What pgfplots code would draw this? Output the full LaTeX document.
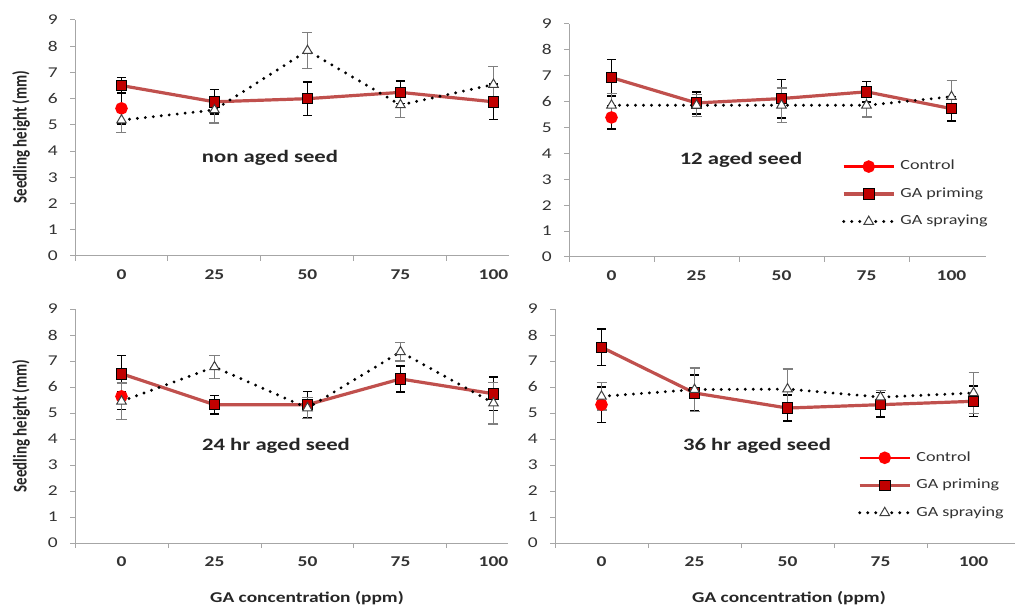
\documentclass[border=0pt]{standalone}
\usepackage{pgfplots}
\pgfplotsset{compat=1.18}
\usepackage{fontspec}
\setmainfont{Carlito}
\usepackage{graphicx}

\definecolor{prim}{HTML}{C0504D}
\definecolor{primfill}{HTML}{C00000}
\definecolor{ctrl}{HTML}{FF0000}
\definecolor{axgray}{HTML}{A6A6A6}
\definecolor{txt}{HTML}{333333}
\definecolor{errgray}{HTML}{7F7F7F}
\definecolor{tri}{HTML}{404040}

\pgfplotsset{
  panel/.style={
    scale only axis, anchor=south west, clip=false,
    axis lines*=left, axis line style={axgray, line width=1bp},
    ymin=0, ymax=9, ytick={0,...,9}, xmin=-0.5,
    xtick={-0.5,0.5,1.5,2.5,3.5,4.5}, xticklabels={},
    extra x ticks={0,1,2,3,4}, extra x tick labels={0,25,50,75,100},
    extra x tick style={major tick length=0pt},
    major tick length=5bp, tick align=outside,
    tick style={axgray, line width=1bp},
    /pgf/number format/assume math mode=true,
    yticklabel style={font=\fontsize{15}{15}\selectfont, text=txt, xscale=1.3, xshift=-6bp},
    xticklabel style={font=\bfseries\fontsize{15}{15}\selectfont, text=txt, xscale=1.3, yshift=-10bp},
    legend style={draw=none, fill=none, inner sep=0pt, outer sep=0pt, row sep=14bp, column sep=5bp,
      font=\fontsize{14}{14}\selectfont, text=txt,
      nodes={inner sep=0pt, text height=10bp, text depth=3.5bp}},
    legend cell align=left,
    legend image code/.code={\draw[mark repeat=2, mark phase=2, ##1] plot coordinates {(0bp,0bp) (25bp,0bp) (50bp,0bp)};},
  },
  ctrlS/.style={ctrl, line width=2.5bp, mark=*, mark size=5bp, mark options={solid, fill=ctrl, draw=ctrl},
    error bars/y dir=both, error bars/y explicit,
    error bars/error bar style={solid, black, line width=1.5bp},
    error bars/error mark options={rotate=90, black, line width=1.5bp, mark size=4.5bp}},
  primS/.style={prim, line width=3.2bp, mark=square*, mark size=5.2bp, mark options={solid, fill=primfill, draw=black, line width=0.8bp},
    error bars/y dir=both, error bars/y explicit,
    error bars/error bar style={solid, black, line width=1.6bp},
    error bars/error mark options={rotate=90, black, line width=1.6bp, mark size=4.5bp}},
  sprS/.style={black, line width=3.2bp, line cap=round, dash pattern=on 0bp off 8bp, mark=triangle*, mark size=5.5bp,
    mark options={solid, fill=white, draw=tri, line width=1bp},
    error bars/y dir=both, error bars/y explicit,
    error bars/error bar style={solid, line cap=butt, errgray, line width=1.3bp},
    error bars/error mark options={rotate=90, errgray, line width=1.3bp, mark size=5bp}},
}

\begin{document}
\begin{tikzpicture}
\useasboundingbox (0bp,0bp) rectangle (1015bp,606bp);

% Panel 1: non aged seed
\begin{axis}[panel, at={(75bp,350bp)}, width=434bp, height=236bp, xmax=4.167]
\addplot[ctrlS] coordinates {(0,5.63) +- (0,0.6)};
\addplot[primS] coordinates {(0,6.5) +- (0,0.3) (1,5.88) +- (0,0.47) (2,6.0) +- (0,0.64) (3,6.24) +- (0,0.43) (4,5.88) +- (0,0.67)};
\addplot[sprS] coordinates {(0,5.18) +- (0,0.47) (1,5.57) +- (0,0.5) (2,7.83) +- (0,0.68) (3,5.76) +- (0,0.47) (4,6.54) +- (0,0.68)};
\end{axis}

% Panel 2: 12 aged seed
\begin{axis}[panel, at={(569bp,349bp)}, width=417bp, height=233bp, xmax=4.406,
  legend style={at={(0.655,0.417)}, anchor=north west}]
\addplot[ctrlS] coordinates {(0,5.39) +- (0,0.45)};
\addlegendentry{\scalebox{1.3}[1]{Control}}
\addplot[primS] coordinates {(0,6.93) +- (0,0.7) (1,5.95) +- (0,0.43) (2,6.12) +- (0,0.74) (3,6.38) +- (0,0.4) (4,5.73) +- (0,0.47)};
\addlegendentry{\scalebox{1.3}[1]{GA priming}}
\addplot[sprS] coordinates {(0,5.86) +- (0,0.45) (1,5.86) +- (0,0.42) (2,5.86) +- (0,0.67) (3,5.86) +- (0,0.45) (4,6.19) +- (0,0.64)};
\addlegendentry{\scalebox{1.3}[1]{GA spraying}}
\end{axis}

% Panel 3: 24 hr aged seed
\begin{axis}[panel, at={(75bp,63bp)}, width=433bp, height=234bp, xmax=4.156]
\addplot[ctrlS] coordinates {(0,5.64) +- (0,0.5)};
\addplot[primS] coordinates {(0,6.51) +- (0,0.7) (1,5.32) +- (0,0.35) (2,5.32) +- (0,0.5) (3,6.31) +- (0,0.5) (4,5.74) +- (0,0.64)};
\addplot[sprS] coordinates {(0,5.45) +- (0,0.7) (1,6.77) +- (0,0.45) (2,5.19) +- (0,0.4) (3,7.35) +- (0,0.35) (4,5.38) +- (0,0.8)};
\end{axis}

% Panel 4: 36 hr aged seed
\begin{axis}[panel, at={(555bp,63bp)}, width=460bp, height=234bp, xmax=4.446,
  legend style={at={(0.659,0.393)}, anchor=north west}]
\addplot[ctrlS] coordinates {(0,5.32) +- (0,0.68)};
\addlegendentry{\scalebox{1.3}[1]{Control}}
\addplot[primS] coordinates {(0,7.53) +- (0,0.7) (1,5.77) +- (0,0.7) (2,5.19) +- (0,0.5) (3,5.32) +- (0,0.47) (4,5.45) +- (0,0.58)};
\addlegendentry{\scalebox{1.3}[1]{GA priming}}
\addplot[sprS] coordinates {(0,5.64) +- (0,0.53) (1,5.9) +- (0,0.83) (2,5.92) +- (0,0.77) (3,5.61) +- (0,0.26) (4,5.77) +- (0,0.79)};
\addlegendentry{\scalebox{1.3}[1]{GA spraying}}
\end{axis}

% Panel titles
\begin{scope}[every node/.style={font=\bfseries\fontsize{17.5}{17.5}\selectfont, text=black!85}]
\node at (270bp,448bp) {\scalebox{1.3}[1]{non aged seed}};
\node at (741bp,446bp) {\scalebox{1.3}[1]{12 aged seed}};
\node at (276bp,160bp) {\scalebox{1.3}[1]{24 hr aged seed}};
\node at (757bp,160bp) {\scalebox{1.3}[1]{36 hr aged seed}};
\end{scope}

% Axis labels
\begin{scope}[every node/.style={font=\bfseries\fontsize{15}{15}\selectfont, text=black!85}]
\node[rotate=90] at (21bp,469bp) {\scalebox{1}[1.3]{Seedling height (mm)}};
\node[rotate=90] at (21bp,180bp) {\scalebox{1}[1.3]{Seedling height (mm)}};
\node at (307bp,8bp) {\scalebox{1.3}[1]{GA concentration (ppm)}};
\node at (789bp,8bp) {\scalebox{1.3}[1]{GA concentration (ppm)}};
\end{scope}
\end{tikzpicture}
\end{document}
